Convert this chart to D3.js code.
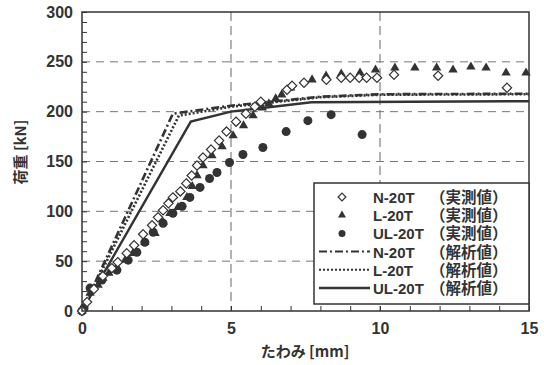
<!DOCTYPE html>
<html>
<head>
<meta charset="utf-8">
<script src="https://cdn.jsdelivr.net/npm/d3@7"></script>
<style>
  body { margin: 0; background: #fff; }
  text { font-family: "Liberation Sans", Arial, "Noto Sans CJK JP", sans-serif; fill: #333; }
  .jp { font-family: "Noto Sans CJK JP", sans-serif; }
</style>
</head>
<body>
<div id="chart"></div>
<script>
// measured values [deflection mm, load kN]
const nMeasured = [
  [0, 0], [0.17, 9], [0.4, 22], [0.7, 35], [1.0, 43], [1.2, 49], [1.5, 58], [1.75, 66],
  [2.05, 77], [2.35, 86], [2.55, 94], [2.72, 101], [2.9, 108], [3.05, 114], [3.3, 120],
  [3.5, 128], [3.68, 136], [3.86, 146], [4.06, 154], [4.33, 162], [4.6, 171], [4.85, 180],
  [5.17, 190], [5.5, 198], [5.8, 205], [6.0, 210], [6.88, 222], [7.05, 226], [7.45, 229],
  [8.2, 232], [8.7, 234], [9.0, 234], [9.3, 234], [9.55, 234], [9.9, 234], [10.47, 237],
  [11.95, 236], [14.26, 224],
];
const lMeasured = [
  [0, 0], [0.27, 18], [0.54, 26], [0.7, 33], [0.9, 38], [1.17, 44], [1.45, 51], [1.71, 58],
  [2.11, 69], [2.45, 78], [2.72, 89], [2.95, 98], [3.22, 104], [3.52, 114], [3.7, 125],
  [3.86, 136], [4.06, 146], [4.36, 156], [4.7, 165], [5.07, 176], [5.42, 186], [5.74, 196],
  [6.05, 204], [6.27, 208], [6.5, 213], [6.7, 217], [7.0, 224], [7.72, 232], [8.19, 236],
  [8.7, 238], [9.33, 239], [9.85, 242], [10.5, 244], [11.17, 244], [11.9, 244], [12.45, 242],
  [13.05, 245], [13.56, 244], [14.23, 239], [14.9, 239],
];
const ulMeasured = [
  [0, 0], [0.07, 3], [0.27, 23], [0.67, 31], [1.17, 41], [1.55, 51], [1.84, 59], [2.11, 69],
  [2.39, 79], [2.72, 88], [3.05, 98], [3.36, 105], [3.62, 114], [3.96, 124], [4.28, 133],
  [4.53, 139], [4.95, 149], [5.4, 157], [6.07, 164], [6.85, 180], [7.58, 191], [8.36, 197],
  [9.4, 177],
];

// analysis values
const nAnalysis = [[0, 0], [3.05, 198], [5, 206], [8, 215], [10, 217.5], [15, 218]];
const lAnalysis = [[0, 0], [3.25, 196], [5, 205], [8, 214.5], [10, 217], [15, 217.5]];
const ulAnalysis = [[0, 0], [3.65, 190], [5, 200], [7.7, 209.5], [15, 210.5]];

const xTicks = [0, 5, 10, 15];
const yTicks = [0, 50, 100, 150, 200, 250, 300];

const legendItems = [
  { name: 'N-20T', note: '（実測値）', type: 'diamond' },
  { name: 'L-20T', note: '（実測値）', type: 'triangle' },
  { name: 'UL-20T', note: '（実測値）', type: 'circle' },
  { name: 'N-20T', note: '（解析値）', type: 'dashdot' },
  { name: 'L-20T', note: '（解析値）', type: 'dotted' },
  { name: 'UL-20T', note: '（解析値）', type: 'solid' },
];

const W = 544;
const H = 365;
const margin = { top: 12, right: 15, bottom: 54, left: 82 };
const width = W - margin.left - margin.right;
const height = H - margin.top - margin.bottom;
const ink = '#333';

const svg = d3.select('#chart').append('svg')
  .attr('width', W)
  .attr('height', H);
const g = svg.append('g').attr('transform', `translate(${margin.left},${margin.top})`);

const x = d3.scaleLinear().domain([0, 15]).range([0, width]);
const y = d3.scaleLinear().domain([0, 300]).range([height, 0]);

// grid lines
g.selectAll('.vgrid').data([5, 10]).enter().append('line')
  .attr('x1', (d) => x(d)).attr('x2', (d) => x(d))
  .attr('y1', 0).attr('y2', height)
  .attr('stroke', '#666').attr('stroke-width', 1)
  .attr('stroke-dasharray', '9,5');
g.selectAll('.hgrid').data([50, 100, 150, 200, 250]).enter().append('line')
  .attr('x1', 0).attr('x2', width)
  .attr('y1', (d) => y(d)).attr('y2', (d) => y(d))
  .attr('stroke', '#777').attr('stroke-width', 1)
  .attr('stroke-dasharray', '8,6');

// minor ticks, inward
g.append('g').call(d3.axisLeft(y).ticks(30).tickSize(-5).tickFormat(''))
  .call((a) => a.select('.domain').remove())
  .selectAll('line').attr('stroke', ink);
g.append('g').attr('transform', `translate(0,${height})`)
  .call(d3.axisBottom(x).ticks(15).tickSize(-5).tickFormat(''))
  .call((a) => a.select('.domain').remove())
  .selectAll('line').attr('stroke', ink);

// tick labels
g.append('g').attr('transform', `translate(0,${height})`)
  .call(d3.axisBottom(x).tickValues(xTicks).tickSize(0).tickPadding(12))
  .call((a) => a.select('.domain').remove())
  .selectAll('text')
  .attr('fill', ink).style('font-size', '16px').style('font-weight', 'bold');
g.append('g')
  .call(d3.axisLeft(y).tickValues(yTicks).tickSize(0).tickPadding(9))
  .call((a) => a.select('.domain').remove())
  .selectAll('text')
  .attr('fill', ink).style('font-size', '16px').style('font-weight', 'bold');

// analysis lines
const line = d3.line().x((d) => x(d[0])).y((d) => y(d[1]));
const styles = {
  dashdot: { dash: '8,3,2,3', w: 2.6 },
  dotted: { dash: '2,2', w: 2.6 },
  solid: { dash: null, w: 2.4 },
};
[[nAnalysis, 'dashdot'], [lAnalysis, 'dotted'], [ulAnalysis, 'solid']].forEach(([data, type]) => {
  g.append('path').datum(data)
    .attr('d', line)
    .attr('fill', 'none')
    .attr('stroke', ink)
    .attr('stroke-width', styles[type].w)
    .attr('stroke-dasharray', styles[type].dash);
});

// measured markers
function drawMarker(sel, type, size) {
  if (type === 'diamond') {
    sel.append('path')
      .attr('d', d3.symbol(d3.symbolDiamond2, size * 5.5)())
      .attr('fill', '#fff').attr('stroke', ink).attr('stroke-width', 1.2);
  } else if (type === 'triangle') {
    sel.append('path')
      .attr('d', d3.symbol(d3.symbolTriangle, size * 4)())
      .attr('fill', ink);
  } else {
    sel.append('circle').attr('r', size / 2).attr('fill', ink);
  }
}

[[ulMeasured, 'circle', 9], [lMeasured, 'triangle', 9.5], [nMeasured, 'diamond', 10]].forEach(([data, type, size]) => {
  g.append('g').selectAll('g').data(data).enter().append('g')
    .attr('transform', (d) => `translate(${x(d[0])},${y(d[1])})`)
    .each(function () { drawMarker(d3.select(this), type, size); });
});

// frame
g.append('rect')
  .attr('width', width).attr('height', height)
  .attr('fill', 'none').attr('stroke', ink).attr('stroke-width', 1.5);

// axis titles
svg.append('text')
  .attr('class', 'jp')
  .attr('transform', 'translate(26,152) rotate(-90)')
  .attr('text-anchor', 'middle')
  .style('font-size', '15px').style('font-weight', 'bold')
  .text('荷重 [kN]');
svg.append('text')
  .attr('class', 'jp')
  .attr('x', 305).attr('y', 357)
  .attr('text-anchor', 'middle')
  .style('font-size', '15px').style('font-weight', 'bold')
  .text('たわみ [mm]');

// legend
const lg = svg.append('g').attr('transform', 'translate(314,183)');
lg.append('rect')
  .attr('width', 215).attr('height', 121)
  .attr('fill', '#fff').attr('stroke', ink).attr('stroke-width', 1.5);
const rows = lg.selectAll('.row').data(legendItems).enter().append('g')
  .attr('transform', (d, i) => `translate(0,${14 + i * 18.2})`);
rows.each(function (d) {
  const r = d3.select(this);
  if (styles[d.type]) {
    r.append('line')
      .attr('x1', 5).attr('x2', 56).attr('y1', 0).attr('y2', 0)
      .attr('stroke', ink).attr('stroke-width', d.type === 'solid' ? 2.4 : 2)
      .attr('stroke-dasharray', styles[d.type].dash);
  } else {
    const m = r.append('g').attr('transform', 'translate(28,0)');
    drawMarker(m, d.type, 7);
  }
  const label = r.append('text')
    .attr('x', 59).attr('y', 6)
    .style('font-size', '15px').style('font-weight', 'bold')
    .text(d.name);
  // keep the note clear of the name; short names get a little extra gap
  const nameEnd = 59 + label.node().getComputedTextLength();
  r.append('text')
    .attr('x', Math.max(nameEnd, 116)).attr('y', 6)
    .style('font-size', '15.5px').style('font-weight', 'bold')
    .text(d.note);
});
</script>
</body>
</html>
